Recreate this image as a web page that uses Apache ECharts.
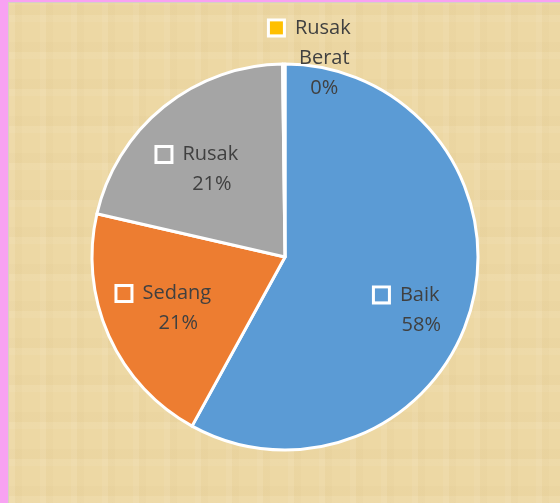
<!DOCTYPE html>
<html>
<head>
<meta charset="utf-8">
<script src="https://cdn.jsdelivr.net/npm/echarts@6/dist/echarts.min.js"></script>
<style>
    html, body { margin: 0; padding: 0; }
    #frame {
        position: relative;
        width: 560px;
        height: 503px;
        background: #f8a2f2;
        overflow: hidden;
    }
    #paper {
        position: absolute;
        left: 8px;
        top: 2px;
        right: 0;
        bottom: 0;
        border-left: 1px solid #d6d0c4;
        border-top: 1px solid #d6d0c4;
        background-color: #edd8a4;
        background-image:
            repeating-linear-gradient(90deg, rgba(255,255,255,0.06) 0 6px, rgba(150,110,40,0.025) 6px 13px, rgba(255,255,255,0) 13px 31px),
            repeating-linear-gradient(0deg, rgba(255,255,255,0.05) 0 7px, rgba(150,110,40,0.025) 7px 17px, rgba(255,255,255,0) 17px 37px);
    }
    #chart {
        position: absolute;
        left: 0;
        top: 0;
        width: 560px;
        height: 503px;
    }
</style>
</head>
<body>
<div id="frame">
    <div id="paper"></div>
    <div id="chart"></div>
</div>
<script>
    // data
    const categories = ['Baik', 'Sedang', 'Rusak', 'Rusak Berat'];
    const values = [58.0, 20.6, 21.2, 0.2];
    const colors = ['#5b9bd5', '#ed7d31', '#a5a5a5', '#ffc000'];

    // label placement (fraction of radius, angle nudge in degrees)
    const labelRadius = [0.69, 0.68, 0.64, 1.04];
    const labelTurn = [9, 1, -6, 7.6];

    const cx = 285, cy = 257, R = 193;
    const total = values.reduce(function(a, b){ return a + b; }, 0);

    function midAngle(index){
        let before = 0;
        for(let i = 0; i < index; i++){ before += values[i]; }
        return (before + values[index] / 2) / total * 360;
    }

    const chart = echarts.init(document.getElementById('chart'));

    const textStyle = { fontSize: 20, color: '#404040', fontFamily: 'Open Sans', lineHeight: 30 };

    chart.setOption({
        animation: false,
        backgroundColor: 'transparent',
        series: [{
            type: 'pie',
            center: [cx, cy],
            radius: R,
            startAngle: 90,
            clockwise: true,
            avoidLabelOverlap: false,
            itemStyle: {
                borderColor: '#ffffff',
                borderWidth: 3
            },
            label: {
                show: true,
                position: 'inside',
                align: 'center',
                verticalAlign: 'middle',
                fontFamily: 'Open Sans',
                formatter: function(p){
                    let pct = Math.round(p.value / total * 100) + '%';
                    let words = p.name.split(' ');
                    let lines = ['{m' + p.dataIndex + '|}{n|' + words[0] + '}'];
                    for(let i = 1; i < words.length; i++){
                        lines.push('{w|' + words[i] + '}');
                    }
                    lines.push('{p|' + pct + '}');
                    return lines.join('\n');
                },
                rich: (function(){
                    let rich = {
                        n: Object.assign({ padding: [0, 0, 0, 12] }, textStyle),
                        w: Object.assign({ padding: [0, 0, 0, 28] }, textStyle),
                        p: Object.assign({ padding: [0, 0, 0, 28] }, textStyle)
                    };
                    colors.forEach(function(c, i){
                        rich['m' + i] = {
                            width: 13,
                            height: 13,
                            backgroundColor: c,
                            borderColor: '#ffffff',
                            borderWidth: 3
                        };
                    });
                    return rich;
                })()
            },
            labelLine: { show: false },
            labelLayout: function(params){
                let i = params.dataIndex;
                let a = (midAngle(i) + labelTurn[i]) * Math.PI / 180;
                let r = R * labelRadius[i];
                return {
                    x: cx + r * Math.sin(a),
                    y: cy - r * Math.cos(a),
                    align: 'center',
                    verticalAlign: 'middle'
                };
            },
            data: categories.map(function(name, i){
                return { name: name, value: values[i], itemStyle: { color: colors[i] } };
            })
        }]
    });
</script>
</body>
</html>
